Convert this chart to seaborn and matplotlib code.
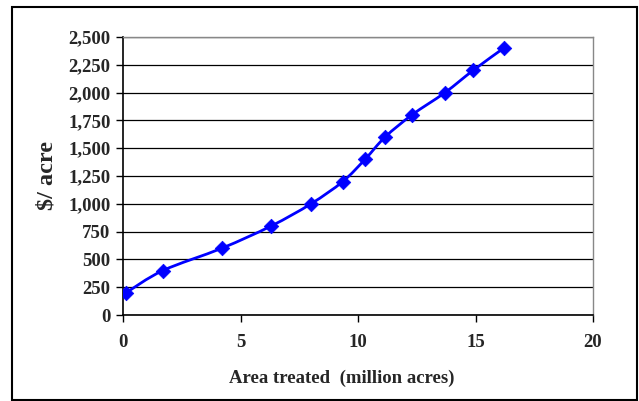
import numpy as np
import pandas as pd
import matplotlib.pyplot as plt
from matplotlib.path import Path
from matplotlib.patches import PathPatch, Rectangle
from matplotlib.ticker import FuncFormatter
import seaborn as sns

# values
area_treated = [0.13, 1.7, 4.2, 6.3, 8.0, 9.35, 10.3, 11.15, 12.3, 13.7, 14.9, 16.2]
cost_per_acre = [200, 400, 600, 800, 1000, 1200, 1400, 1600, 1800, 2000, 2200, 2400]

df = pd.DataFrame({'area': area_treated, 'cost': cost_per_acre})

sns.set_style('white')
plt.rcParams['font.family'] = ['Liberation Serif', 'DejaVu Serif']
plt.rcParams['font.weight'] = 'bold'

fig = plt.figure(figsize=(6.39, 4.01), dpi=100)
ax = fig.add_axes([123 / 639, 1 - 315 / 401, 470 / 639, 278 / 401])

# outer frame around the whole chart
fig.patches.append(Rectangle((12 / 639, 1 - 400 / 401), 625 / 639, 393 / 401,
                             transform=fig.transFigure, fill=False,
                             edgecolor='black', linewidth=1.5))

# Excel style smoothed line: cubic bezier segments through the data points
x = np.asarray(df['area'], dtype=float)
y = np.asarray(df['cost'], dtype=float)
verts = [(x[0], y[0])]
codes = [Path.MOVETO]
n = len(x)
for i in range(n - 1):
    p0 = (x[max(i - 1, 0)], y[max(i - 1, 0)])
    p1 = (x[i], y[i])
    p2 = (x[i + 1], y[i + 1])
    p3 = (x[min(i + 2, n - 1)], y[min(i + 2, n - 1)])
    c1 = (p1[0] + (p2[0] - p0[0]) / 6, p1[1] + (p2[1] - p0[1]) / 6)
    c2 = (p2[0] - (p3[0] - p1[0]) / 6, p2[1] - (p3[1] - p1[1]) / 6)
    verts += [c1, c2, p2]
    codes += [Path.CURVE4] * 3
ax.add_patch(PathPatch(Path(verts, codes), fill=False, edgecolor='#0000ff',
                       linewidth=2, zorder=3))

sns.scatterplot(data=df, x='area', y='cost', marker='D', s=55, color='#0000ff',
                edgecolor='#0000ff', linewidth=0.5, zorder=4, ax=ax)

ax.set_xlim(0, 20)
ax.set_ylim(0, 2500)
ax.set_xticks([0, 5, 10, 15, 20])
ax.set_yticks(np.arange(0, 2501, 250))
ax.yaxis.set_major_formatter(FuncFormatter(lambda v, p: f'{int(v):,}'))
ax.grid(axis='y', color='black', linewidth=0.9)
ax.grid(axis='x', visible=False)
ax.set_axisbelow(True)

for side in ['left', 'bottom']:
    ax.spines[side].set_color('black')
    ax.spines[side].set_linewidth(1.2)
for side in ['top', 'right']:
    ax.spines[side].set_color('#888888')
    ax.spines[side].set_linewidth(1)

ax.tick_params(axis='both', which='major', direction='out', length=5, width=1,
               color='black', labelsize=13.5, pad=4, bottom=True, left=True)
ax.tick_params(axis='x', pad=9)
for lab in ax.get_xticklabels() + ax.get_yticklabels():
    lab.set_fontweight('bold')

ax.set_xlabel('Area treated  (million acres)', fontsize=13.5, fontweight='bold', labelpad=13)
ax.xaxis.set_label_coords(0.465, -0.195)
ax.set_ylabel('$/ acre', fontsize=17.5, fontweight='bold', labelpad=8)

fig.savefig('out.png', dpi=100)
